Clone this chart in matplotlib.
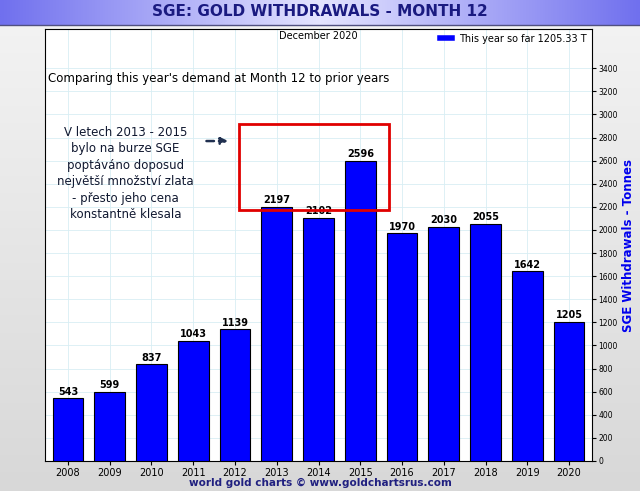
import matplotlib
matplotlib.use("Agg")
import matplotlib.pyplot as plt
import numpy as np
from matplotlib.patches import Rectangle
from matplotlib.lines import Line2D

years = ["2008","2009","2010","2011","2012","2013","2014","2015","2016","2017","2018","2019","2020"]
values = [543, 599, 837, 1043, 1139, 2197, 2102, 2596, 1970, 2030, 2055, 1642, 1205]

fig = plt.figure(figsize=(6.4, 4.91), dpi=100)
bg = fig.add_axes([0, 0, 1, 1], zorder=-10)
grad = np.linspace(0, 1, 256).reshape(-1, 1)
bg.imshow(grad, aspect="auto", cmap=matplotlib.colors.LinearSegmentedColormap.from_list("g", ["#f4f4f4", "#d8d8d8"]), extent=[0, 1, 0, 1])
tb = np.linspace(0, 1, 256).reshape(1, -1)
tb = 1 - np.abs(tb - 0.5) * 2
bg.imshow(tb, aspect="auto", cmap=matplotlib.colors.LinearSegmentedColormap.from_list("t", ["#7070ee", "#e4e4ff"]),
          extent=[0, 1, 1 - 25/491, 1])
bg.axhline(1 - 25/491, color="#505080", lw=1)
bg.set_xlim(0, 1); bg.set_ylim(0, 1); bg.axis("off")
fig.text(0.5, 1 - 12/491, "SGE: GOLD WITHDRAWALS - MONTH 12", ha="center", va="center",
         fontsize=11, fontweight="bold", color="#1a1a80")

ax = fig.add_axes([45/640, 30/491, 547/640, 432/491])
x = np.arange(len(years))
ax.bar(x, values, width=0.74, color="#0000ff", edgecolor="black", linewidth=0.8, zorder=3)
for xi, v in zip(x, values):
    ax.text(xi, v + 15, str(v), ha="center", va="bottom", fontsize=7, fontweight="bold", zorder=4)
ax.set_xlim(-0.55, 12.55)
ax.set_ylim(0, 3740)
ax.set_xticks(x)
ax.set_xticklabels(years, fontsize=7)
ax.set_yticks(np.arange(0, 3401, 200))
ax.yaxis.tick_right()
ax.tick_params(axis="y", labelsize=5.5, length=3, pad=1.5)
ax.tick_params(axis="x", length=3, pad=2)
ax.yaxis.set_label_position("right")
ax.set_ylabel("SGE Withdrawals - Tonnes", color="#0000ee", fontsize=8.5, fontweight="bold", labelpad=3)
ax.grid(True, color="#d8eef4", linewidth=0.6, zorder=0)
ax.set_facecolor("white")
ax.legend(handles=[Line2D([], [], color="#0000ff", lw=4)], labels=["This year so far 1205.33 T"],
          loc="upper right", fontsize=7, frameon=False, handlelength=1.2, borderaxespad=0.1)
ax.text(0.5, 0.995, "December 2020", transform=ax.transAxes, ha="center", va="top", fontsize=7)
ax.text(0.005, 0.885, "Comparing this year's demand at Month 12 to prior years", transform=ax.transAxes,
        ha="left", va="center", fontsize=8.5)
ax.add_patch(Rectangle((4.1, 2173), 3.59, 745, fill=False, edgecolor="#e00000", linewidth=2, zorder=5))
ax.annotate("", xy=(3.9, 2770), xytext=(3.25, 2770),
            arrowprops=dict(arrowstyle="-|>", linestyle=(0, (3, 2)), color="#203050", lw=1.8))
ax.text(1.38, 2490, "V letech 2013 - 2015\nbylo na burze SGE\npoptáváno doposud\nnejvětší množství zlata\n- přesto jeho cena\nkonstantně klesala",
        ha="center", va="center", fontsize=8.5, color="#101830", linespacing=1.35)
fig.text(0.5, 8/491, "world gold charts © www.goldchartsrus.com", ha="center", va="center",
         fontsize=7.5, fontweight="bold", color="#202080")
fig.savefig("out.png", dpi=100)
